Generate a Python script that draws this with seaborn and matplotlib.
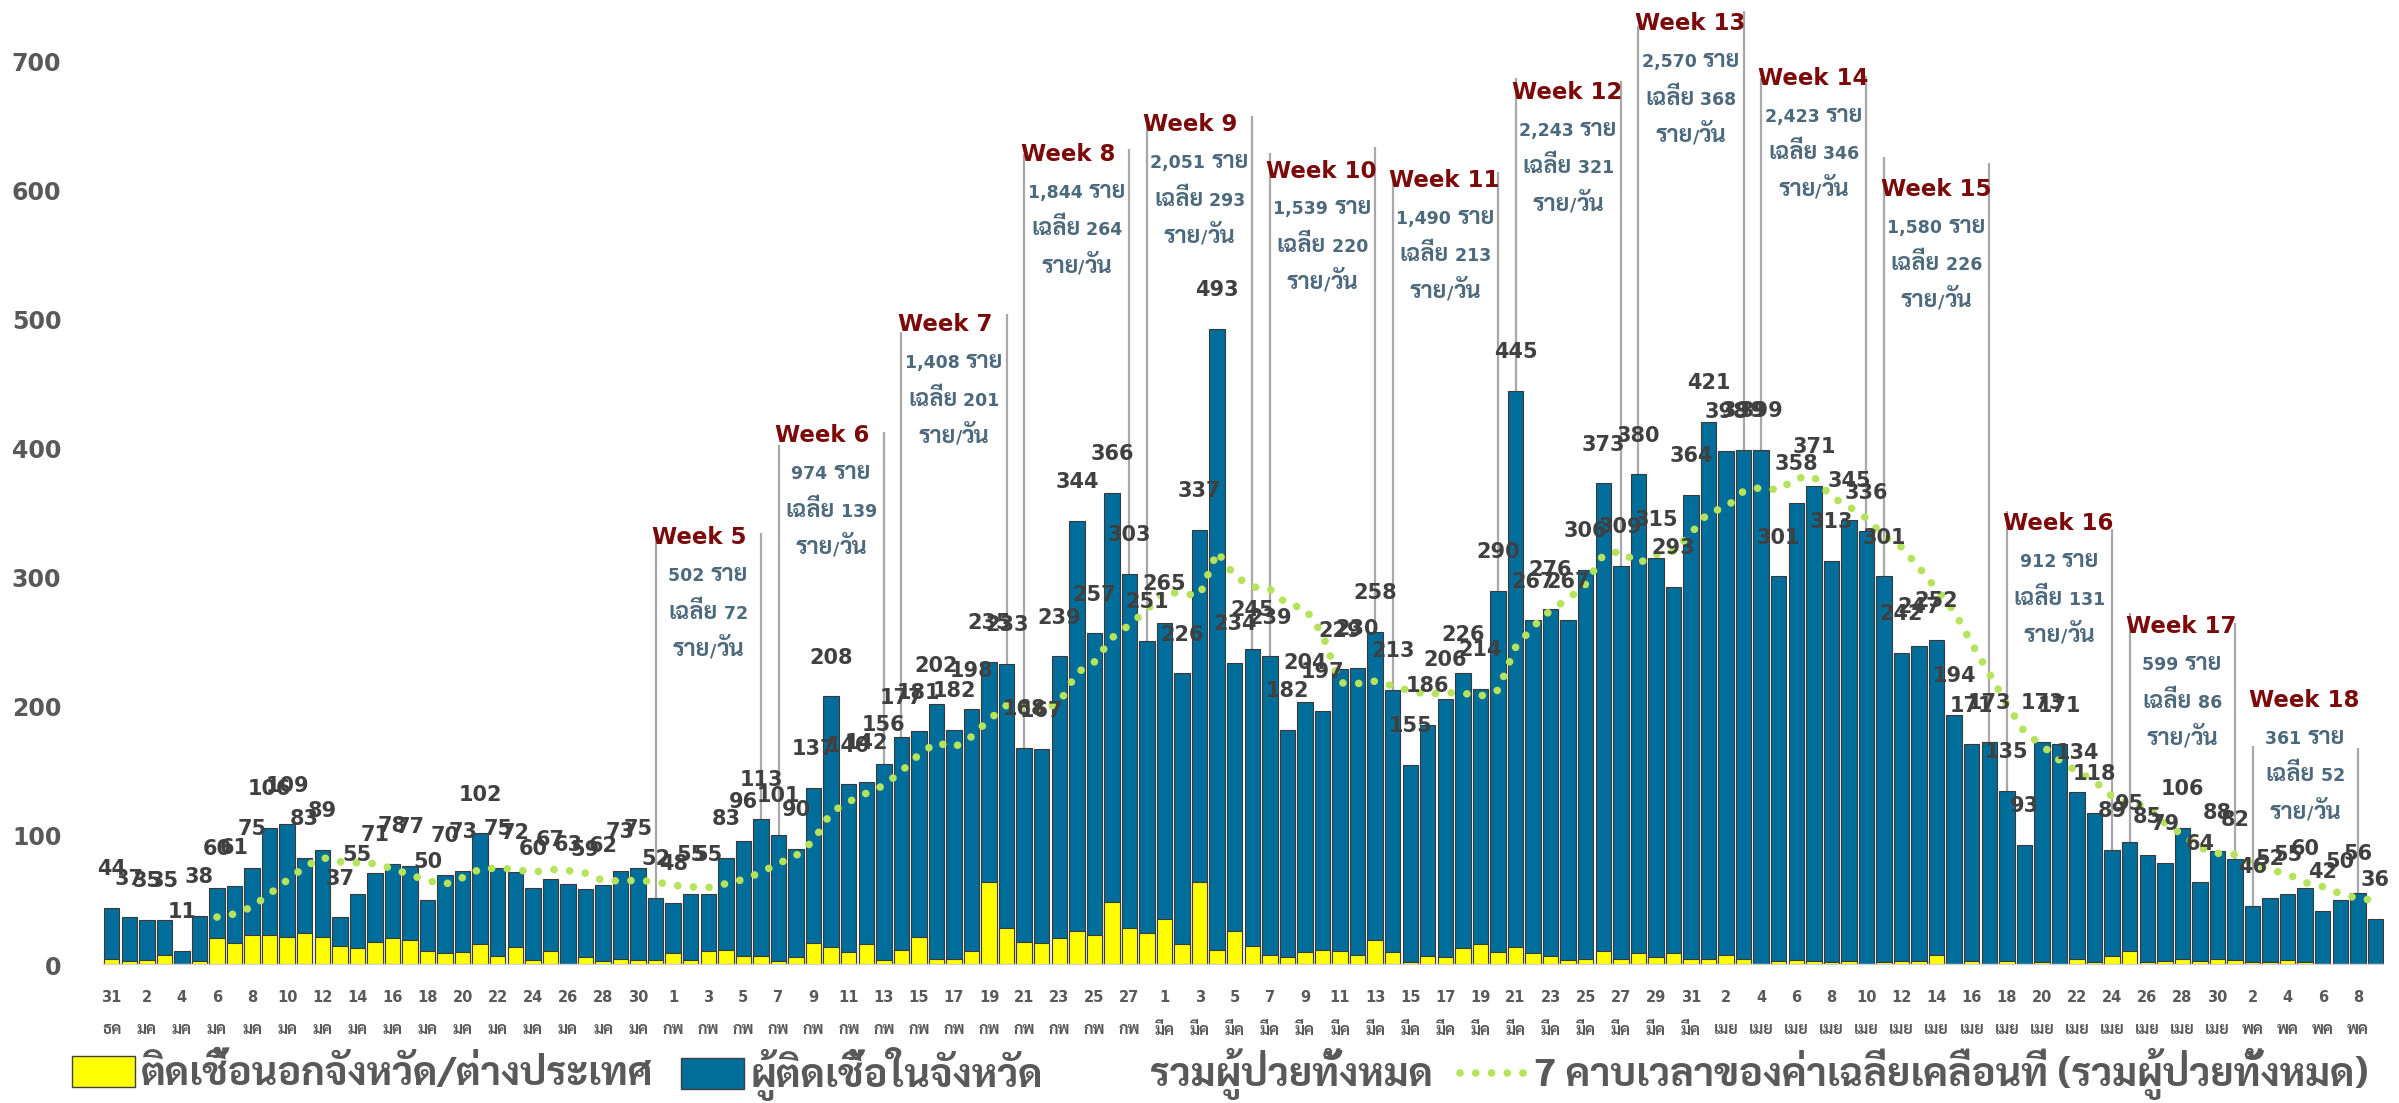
import re
import matplotlib
matplotlib.use("Agg")
import matplotlib.pyplot as plt
import numpy as np
import pandas as pd
import seaborn as sns
from matplotlib import font_manager
from matplotlib.patches import Patch
from matplotlib.lines import Line2D
from matplotlib.offsetbox import TextArea, HPacker, AnnotationBbox

# ===============================
# ข้อมูลรายวัน 31 ธค - 9 พค
# ===============================
dates = pd.date_range("2020-12-31", "2021-05-09", freq="D")
thai_months = {12: "ธค", 1: "มค", 2: "กพ", 3: "มีค", 4: "เมย", 5: "พค"}

total_cases = [
    44,
    37, 35, 35, 11, 38, 60, 61, 75, 106, 109, 83, 89, 37, 55, 71, 78, 77, 50, 70, 73,
    102, 75, 72, 60, 67, 63, 59, 62, 73, 75, 52,
    48, 55, 55, 83, 96, 113, 101, 90, 137, 208, 140, 142, 156, 177, 181, 202, 182, 198,
    235, 233, 168, 167, 239, 344, 257, 366, 303, 251,
    265, 226, 337, 493, 234, 245, 239, 182, 204, 197, 229, 230, 258, 213, 155, 186, 206,
    226, 214, 290, 445, 267, 276, 267, 306, 373, 309, 380, 315, 293, 364,
    421, 398, 399, 399, 301, 358, 371, 313, 345, 336, 301, 242, 247, 252, 194, 171, 173,
    135, 93, 173, 171, 134, 118, 89, 95, 85, 79, 106, 64, 88,
    82, 46, 52, 55, 60, 42, 50, 56, 36,
]
outside_cases = [
    5,
    3, 4, 8, 0, 3, 21, 17, 23, 23, 22, 25, 22, 15, 13, 18, 21, 19, 11, 9, 10,
    16, 7, 14, 4, 11, 1, 6, 3, 5, 4, 4,
    9, 4, 11, 12, 7, 7, 3, 6, 17, 14, 10, 16, 4, 12, 22, 5, 5, 11,
    64, 29, 18, 17, 21, 26, 23, 49, 29, 25,
    36, 16, 64, 12, 26, 15, 8, 6, 10, 12, 11, 8, 19, 10, 2, 7, 6,
    13, 16, 10, 14, 9, 7, 4, 5, 11, 5, 9, 6, 9, 5,
    5, 8, 5, 0, 3, 4, 3, 2, 3, 1, 2, 3, 3, 8, 1, 3, 1,
    3, 1, 2, 1, 5, 2, 7, 11, 2, 3, 5, 3, 5,
    4, 2, 2, 4, 2, 0, 1, 1, 0,
]

# สรุปรายสัปดาห์
week_numbers = [5, 6, 7, 8, 9, 10, 11, 12, 13, 14, 15, 16, 17, 18]
week_first_day = ["2021-01-31", "2021-02-07", "2021-02-14", "2021-02-21", "2021-02-28",
                  "2021-03-07", "2021-03-14", "2021-03-21", "2021-03-28", "2021-04-04",
                  "2021-04-11", "2021-04-18", "2021-04-25", "2021-05-02"]
week_totals = ["502", "974", "1,408", "1,844", "2,051", "1,539", "1,490", "2,243",
               "2,570", "2,423", "1,580", "912", "599", "361"]
week_means = ["72", "139", "201", "264", "293", "220", "213", "321", "368", "346",
              "226", "131", "86", "52"]
week_title_y = [331, 410, 496, 628, 651, 615, 608, 676, 729, 687, 601, 342, 262, 205]
week_line_top_left = [337, 403, 490, 628, 656, 629, 610, 687, 727, 687, 626, 352, 273, 170]
week_line_top_right = [335, 413, 504, 632, 658, 634, 614, 685, 739, 689, 621, 338, 265, 168]

legend_labels = [
    "ติดเชื้อนอกจังหวัด/ต่างประเทศ",
    "ผู้ติดเชื้อในจังหวัด",
    "รวมผู้ป่วยทั้งหมด",
    "7 คาบเวลาของค่าเฉลี่ยเคลื่อนที่ (รวมผู้ป่วยทั้งหมด)",
]

# ===============================
# สีและฟอนต์
# ===============================
BLUE = "#016d9a"
YELLOW = "#ffff00"
GREEN = "#b5e35b"
LABEL_GREY = "#595959"
WEEK_RED = "#7b0b0b"
WEEK_BLUE = "#4d6a7c"
THAI_SCALE = 1.35

sns.set_style("white")
installed = {f.name for f in font_manager.fontManager.ttflist}
thai_font = next((f for f in ["Sarabun", "Noto Sans Thai", "Athiti"] if f in installed), "Athiti")
plt.rcParams["font.family"] = ["DejaVu Sans", thai_font]
legend_font = {"family": [thai_font, "DejaVu Sans"], "weight": "bold", "size": 28.5}


def mixed_text(ax, x, y, text, size, color, zorder=6):
    # ตัวอักษรไทยขยายให้สูงเท่าตัวเลข
    parts = re.findall(r"[\u0E00-\u0E7F]+|[^\u0E00-\u0E7F]+", text)
    boxes = []
    for p in parts:
        if re.match(r"[\u0E00-\u0E7F]", p):
            props = dict(family=thai_font, size=size * THAI_SCALE, weight="bold", color=color)
        else:
            props = dict(family="DejaVu Sans", size=size, weight="bold", color=color)
        boxes.append(TextArea(p, textprops=props))
    pack = HPacker(children=boxes, align="baseline", pad=0, sep=0)
    ab = AnnotationBbox(pack, (x, y), xycoords="data", frameon=False,
                        box_alignment=(0.5, 0.5), pad=0, zorder=zorder)
    ax.add_artist(ab)


df = pd.DataFrame({
    "day": np.arange(len(dates)),
    "total": total_cases,
    "outside": outside_cases,
})
df["ma7"] = df["total"].rolling(7).mean()

fig = plt.figure(figsize=(23.99, 11.03), dpi=100)
ax = fig.add_axes([0.0429, 0.1251, 0.9509, 0.8749])

sns.barplot(data=df, x="day", y="total", color=BLUE, saturation=1, width=0.88,
            edgecolor="#3a3a3a", linewidth=0.8, errorbar=None, ax=ax, zorder=2)
sns.barplot(data=df, x="day", y="outside", color=YELLOW, saturation=1, width=0.88,
            edgecolor="#3a3a3a", linewidth=0.8, errorbar=None, ax=ax, zorder=3)
sns.lineplot(data=df, x="day", y="ma7", color=GREEN, lw=5.5,
             linestyle=(0, (0.01, 2.05)), dash_capstyle="round", ax=ax, zorder=4)

ax.axhline(0, color="#d0d0d0", lw=2.5, zorder=5)

# ตัวเลขรวมเหนือแท่ง
for i, v in enumerate(total_cases):
    ax.text(i, v + 30, str(v), ha="center", va="center", fontsize=15,
            weight="bold", color="#404040", zorder=6)

# กรอบสรุปรายสัปดาห์
for k, wk in enumerate(week_numbers):
    s = dates.get_loc(pd.Timestamp(week_first_day[k]))
    e = s + 6
    ax.vlines(s, total_cases[s], week_line_top_left[k], color="#a8a8a8", lw=1.6, zorder=1)
    ax.vlines(e, total_cases[e], week_line_top_right[k], color="#a8a8a8", lw=1.6, zorder=1)
    ty = week_title_y[k]
    ax.text(s - 0.2, ty, f"Week {wk}", ha="left", va="center", fontsize=16.5,
            weight="bold", color=WEEK_RED, zorder=6)
    sub = [f"{week_totals[k]} ราย", f"เฉลี่ย {week_means[k]}", "ราย/วัน"]
    for j, t in enumerate(sub):
        mixed_text(ax, s + 3, ty - 29 * (j + 1), t, 12.5, WEEK_BLUE)

# แกน
ax.set_xlim(-0.5, len(dates) - 0.5)
ax.set_ylim(0, 747.5)
ax.set_yticks(range(0, 800, 100))
ax.set_yticklabels([str(v) for v in range(0, 800, 100)], fontsize=17,
                   weight="bold", color=LABEL_GREY)
tick_pos = list(range(0, len(dates), 2))
ax.set_xticks(tick_pos)
ax.set_xticklabels([str(dates[p].day) for p in tick_pos],
                   fontsize=10.5, weight="bold", color=LABEL_GREY)
for p in tick_pos:
    ax.text(p, -0.0674, thai_months[dates[p].month], transform=ax.get_xaxis_transform(),
            ha="center", va="center", family=thai_font, fontsize=11.6,
            weight="bold", color=LABEL_GREY)
ax.tick_params(axis="y", length=0, pad=30)
ax.tick_params(axis="x", length=0, pad=18)
ax.set_xlabel("")
ax.set_ylabel("")
sns.despine(ax=ax, left=True, bottom=True)

# ===============================
# คำอธิบายสัญลักษณ์ (แถวล่าง)
# ===============================
LEG_Y = 0.026
legend_kw = dict(loc="center left", frameon=False, borderpad=0, borderaxespad=0,
                 prop=legend_font, labelcolor=LABEL_GREY)
fig.legend([Patch(facecolor=YELLOW, edgecolor="#404040")], legend_labels[:1],
           bbox_to_anchor=(0.030, LEG_Y), handlelength=1.58, handleheight=0.82,
           handletextpad=0.17, **legend_kw)
fig.legend([Patch(facecolor=BLUE, edgecolor="#404040")], legend_labels[1:2],
           bbox_to_anchor=(0.284, LEG_Y), handlelength=1.58, handleheight=0.82,
           handletextpad=0.17, **legend_kw)
fig.text(0.4794, LEG_Y, legend_labels[2], ha="left", va="center", color=LABEL_GREY,
         **legend_font)
fig.legend([Line2D([], [], color=GREEN, lw=5.5, linestyle=(0, (0.01, 2.05)),
                   dash_capstyle="round")],
           legend_labels[3:], bbox_to_anchor=(0.6086, LEG_Y), handlelength=1.75,
           handletextpad=0.12, **legend_kw)

fig.savefig("out.png", dpi=100)
